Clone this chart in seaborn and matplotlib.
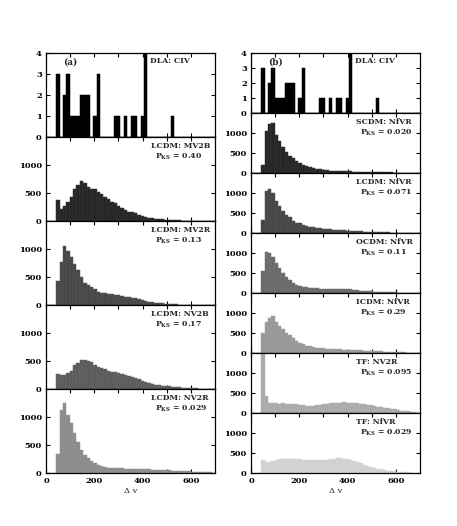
import numpy as np
import pandas as pd
import matplotlib
matplotlib.use("Agg")
import matplotlib.pyplot as plt
import matplotlib.colors as mcolors
import seaborn as sns

BIN_WIDTH = 14
EDGES = np.arange(0, 701, BIN_WIDTH)
CENTERS = EDGES[:-1] + BIN_WIDTH / 2

# observed DLA CIV sample, counts per 14 km/s bin (bins start at dv = 0)
dla_counts = [0, 0, 0, 3, 0, 2, 3, 1, 1, 1, 2, 2, 2, 0, 1, 3, 0, 0, 0, 0,
              1, 1, 0, 1, 0, 1, 1, 0, 1, 4, 0, 0, 0, 0, 0, 0, 0, 1, 0, 0,
              0, 0, 0, 0, 0, 0, 0, 0, 0, 0]

# model histograms, counts per bin starting at dv = 42 (bin 3)
lcdm_mv2b = [380, 210, 270, 345, 435, 570, 640, 720, 670, 600, 580, 565, 520, 475,
             435, 390, 345, 315, 275, 240, 195, 165, 165, 150, 110, 85, 70, 60, 50,
             40, 35, 30, 25, 20, 15, 15, 10, 6, 5, 4, 3, 2, 2, 1, 1, 0, 0]
lcdm_mv2r = [420, 760, 1060, 970, 850, 730, 625, 505, 390, 360, 330, 280, 240, 220,
             210, 200, 190, 180, 170, 160, 150, 140, 130, 120, 105, 90, 75, 60, 50,
             42, 35, 28, 22, 17, 13, 10, 7, 5, 3, 2, 1, 1, 0, 0, 0, 0, 0]
lcdm_nv2b = [270, 245, 255, 290, 320, 430, 460, 510, 510, 505, 480, 430, 400, 380,
             365, 320, 310, 300, 280, 270, 250, 230, 215, 195, 170, 150, 125, 105, 90,
             78, 65, 60, 55, 48, 42, 36, 30, 24, 22, 18, 12, 10, 6, 4, 3, 2, 1]
lcdm_nv2r = [345, 1125, 1255, 1035, 885, 720, 560, 410, 320, 262, 215, 172, 143, 125,
             113, 95, 95, 83, 90, 83, 77, 77, 71, 71, 65, 71, 65, 65, 60, 60, 60, 54,
             54, 48, 42, 40, 36, 34, 30, 28, 24, 22, 18, 16, 12, 10, 8]

scdm_nfvr = [200, 1050, 1220, 1250, 950, 800, 650, 520, 430, 370, 310, 255, 210, 175,
             150, 125, 108, 92, 80, 70, 62, 55, 50, 45, 42, 40, 38, 36, 34, 32, 30, 28,
             26, 24, 22, 20, 18, 16, 14, 12, 10, 9, 8, 6, 5, 4, 3]
lcdm_nfvr = [333, 1040, 1090, 1000, 800, 675, 550, 458, 392, 308, 258, 242, 208, 167,
             150, 142, 125, 117, 100, 100, 92, 83, 75, 67, 67, 58, 58, 50, 42, 42, 33,
             33, 25, 25, 25, 17, 17, 15, 12, 12, 10, 10, 8, 8, 6, 5, 4]
ocdm_nfvr = [558, 1033, 992, 908, 758, 633, 508, 408, 325, 242, 200, 175, 158, 142,
             133, 125, 117, 108, 108, 108, 100, 100, 100, 92, 95, 105, 100, 75, 67, 58,
             50, 42, 42, 33, 33, 25, 25, 20, 18, 15, 12, 10, 10, 8, 6, 5, 4]
icdm_nfvr = [508, 783, 883, 917, 783, 675, 592, 508, 442, 383, 300, 258, 217, 183,
             167, 150, 133, 125, 117, 108, 100, 100, 92, 92, 83, 83, 75, 75, 67, 67,
             58, 58, 50, 50, 42, 42, 33, 30, 27, 24, 21, 18, 15, 12, 10, 8, 6]
tf_nv2r = [1500, 420, 250, 240, 245, 235, 240, 230, 225, 225, 215, 205, 195, 180,
           175, 180, 190, 200, 215, 225, 240, 250, 258, 262, 265, 258, 250, 245, 240,
           230, 215, 200, 190, 175, 160, 145, 130, 115, 100, 88, 75, 62, 50, 40, 28,
           18, 10]
tf_nfvr = [330, 270, 280, 300, 320, 342, 350, 350, 358, 350, 342, 342, 333, 333,
           325, 325, 317, 325, 317, 333, 342, 350, 367, 375, 358, 342, 325, 300, 270,
           240, 205, 175, 150, 125, 105, 90, 75, 62, 52, 44, 36, 28, 22, 16, 12, 8, 5]

left_panels = [
    ("LCDM: MV2B", "0.40", lcdm_mv2b, "#262626"),
    ("LCDM: MV2R", "0.13", lcdm_mv2r, "#484848"),
    ("LCDM: NV2B", "0.17", lcdm_nv2b, "#5c5c5c"),
    ("LCDM: NV2R", "0.029", lcdm_nv2r, "#8c8c8c"),
]
right_panels = [
    ("SCDM: NfVR", "0.020", scdm_nfvr, "#262626"),
    ("LCDM: NfVR", "0.071", lcdm_nfvr, "#474747"),
    ("OCDM: NfVR", "0.11", ocdm_nfvr, "#6b6b6b"),
    ("ICDM: NfVR", "0.29", icdm_nfvr, "#999999"),
    ("TF: NV2R", "0.095", tf_nv2r, "#ababab"),
    ("TF: NfVR", "0.029", tf_nfvr, "#d2d2d2"),
]

sns.set_style("ticks")
plt.rcParams["font.family"] = ["DejaVu Serif"]
plt.rcParams["font.weight"] = "bold"
plt.rcParams["mathtext.fontset"] = "custom"
plt.rcParams["mathtext.rm"] = "DejaVu Serif:bold"
plt.rcParams["mathtext.bf"] = "DejaVu Serif:bold"

W, H = 457, 526
fig = plt.figure(figsize=(W / 100, H / 100), dpi=100)


def add_axes(x0, x1, top, height):
    return fig.add_axes([x0 / W, (H - top - height) / H, (x1 - x0) / W, height / H])


def style(ax, ymax, yticks, bottom):
    ax.set_xlim(0, 700)
    ax.set_ylim(0, ymax)
    ax.set_xticks(range(0, 700, 100))
    ax.set_xticklabels([str(v) if v % 200 == 0 else "" for v in range(0, 700, 100)])
    ax.set_yticks(yticks)
    ax.set_yticklabels([str(v) for v in yticks])
    ax.tick_params(direction="in", length=3, width=0.8, top=True, right=True,
                   labelsize=6, pad=3, labelbottom=bottom, colors="black")
    for s in ax.spines.values():
        s.set_linewidth(0.9)
        s.set_color("black")
    ax.set_xlabel("")
    ax.set_ylabel("")
    if bottom:
        ax.set_xlabel("Δ v", fontsize=6, labelpad=1)


def hist(ax, counts, color, start, sep=0.08):
    full = np.zeros(len(CENTERS))
    full[start:start + len(counts)] = counts
    df = pd.DataFrame({"dv": CENTERS, "n": full})
    # thin, slightly lighter bin separators
    rgb = np.array(mcolors.to_rgb(color))
    edge = tuple(rgb + (1 - rgb) * sep)
    sns.histplot(data=df, x="dv", weights="n", bins=list(EDGES), ax=ax, color=color,
                 alpha=1, edgecolor=edge, linewidth=0.35)


def model_label(ax, name, pks):
    ax.annotate(name, xy=(0.62, 1), xycoords="axes fraction", xytext=(0, -8.5),
                textcoords="offset pixels", ha="left", va="center", fontsize=5.6)
    ax.annotate("P$_{\\rm KS}$ = " + pks, xy=(0.645, 1), xycoords="axes fraction",
                xytext=(0, -20), textcoords="offset pixels", ha="left", va="center",
                fontsize=5.6)


TOP = 53
for col, (x0, x1, panels, h, tag) in enumerate([
        (46, 215, left_panels, 84, "(a)"),
        (251, 420, right_panels, 60, "(b)")]):
    ax = add_axes(x0, x1, TOP, h)
    hist(ax, dla_counts, "black", 0, sep=0.0)
    style(ax, 4, [0, 1, 2, 3, 4], False)
    ax.annotate(tag, xy=(0.1, 1), xycoords="axes fraction", xytext=(0, -9),
                textcoords="offset pixels", ha="left", va="center", fontsize=6.5)
    ax.annotate("DLA: CIV", xy=(0.615, 1), xycoords="axes fraction", xytext=(0, -8),
                textcoords="offset pixels", ha="left", va="center", fontsize=5.6)
    for i, (name, pks, counts, color) in enumerate(panels):
        ax = add_axes(x0, x1, TOP + h * (i + 1), h)
        hist(ax, counts, color, 3)
        style(ax, 1500, [0, 500, 1000], i == len(panels) - 1)
        model_label(ax, name, pks)

fig.savefig("out.png", dpi=100)
